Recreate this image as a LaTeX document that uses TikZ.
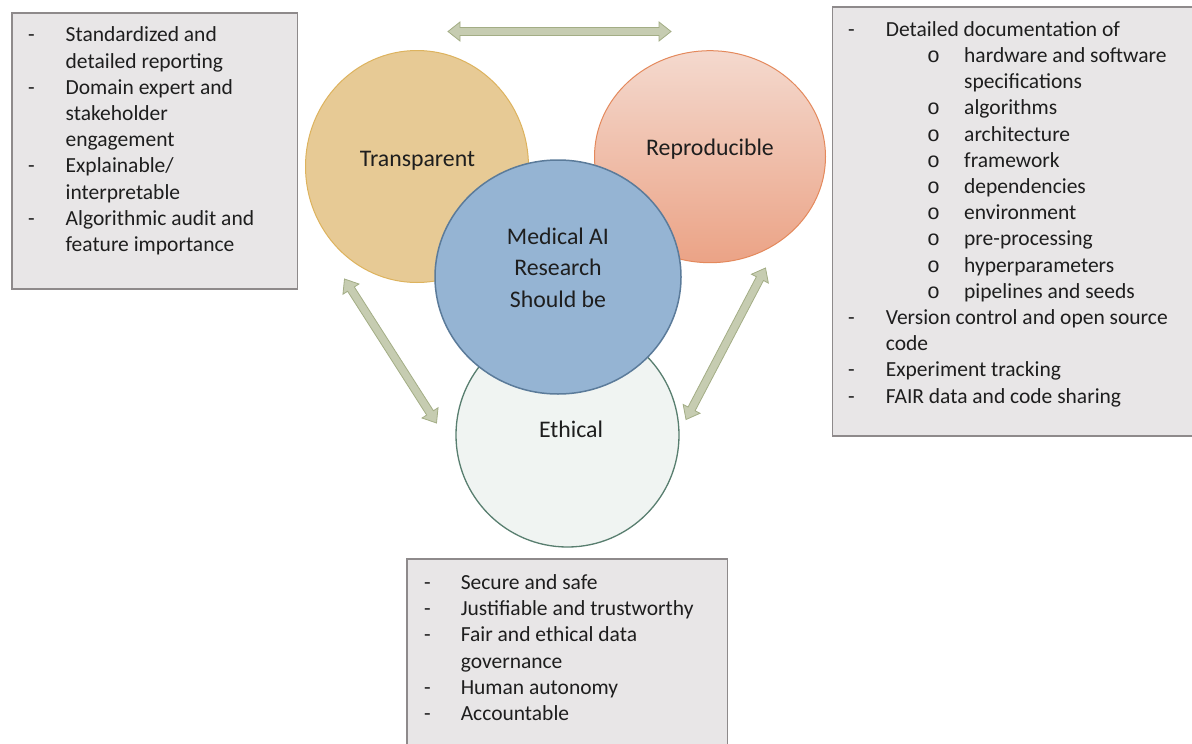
\documentclass[tikz,border=0pt]{standalone}
\usepackage{fontspec}
\setmainfont{Carlito}
\newfontfamily\bulletfont{Liberation Mono}
\usetikzlibrary{calc,shapes.geometric}

\definecolor{boxfill}{HTML}{E8E6E7}
\definecolor{boxline}{HTML}{8E8A8B}
\definecolor{transfill}{HTML}{E7CA95}
\definecolor{transline}{HTML}{DDB35E}
\definecolor{reprotop}{HTML}{F4D9CE}
\definecolor{reprobot}{HTML}{EBA386}
\definecolor{reproline}{HTML}{E4895C}
\definecolor{medfill}{HTML}{95B4D3}
\definecolor{medline}{HTML}{5B7B9A}
\definecolor{ethfill}{HTML}{F0F4F2}
\definecolor{ethline}{HTML}{587E6F}
\definecolor{arrfill}{HTML}{C6CCB1}
\definecolor{arrline}{HTML}{A3AD85}
\definecolor{txt}{HTML}{1E1E1E}

\newcommand\fatarrow[2]{%
\filldraw[fatarr] (#1)
 -- ($(#1)!12pt!(#2)!9.5pt!90:(#2)$)
 -- ($(#1)!12pt!(#2)!4pt!90:(#2)$)
 -- ($(#2)!12pt!(#1)!4pt!-90:(#1)$)
 -- ($(#2)!12pt!(#1)!9.5pt!-90:(#1)$)
 -- (#2)
 -- ($(#2)!12pt!(#1)!9.5pt!90:(#1)$)
 -- ($(#2)!12pt!(#1)!4pt!90:(#1)$)
 -- ($(#1)!12pt!(#2)!4pt!-90:(#2)$)
 -- ($(#1)!12pt!(#2)!9.5pt!-90:(#2)$)
 -- cycle;}
\newcommand\mysubitem[1]{\hspace*{41.3pt}\makebox[37pt][l]{\bulletfont o}#1}
\newcommand\mysubcont[1]{\hspace*{78.3pt}#1}

\begin{document}
\begin{tikzpicture}[x=1pt,y=-1pt,
  infobox/.style={draw=boxline, fill=boxfill, line width=1.6pt, rectangle, inner sep=0pt},
  listtext/.style={anchor=north west, inner sep=0pt, text=txt, font=\fontsize{21.5}{26.2}\selectfont},
  bubble/.style={ellipse, inner sep=0pt, line width=1pt},
  bubblelabel/.style={anchor=base, inner sep=0pt, text=txt, font=\fontsize{23.8}{31}\selectfont, align=center},
  fatarr/.style={fill=arrfill, draw=arrline, line width=0.8pt, line join=miter}]
\fill[white] (0,0) rectangle (1192,744);
\useasboundingbox (0,0) rectangle (1192,744);

% boxes
\node[infobox, minimum width=285.7pt, minimum height=275.7pt, anchor=north west] (leftbox) at (11,12.3) {};
\node[infobox, minimum width=362pt, minimum height=429pt, anchor=north west] (rightbox) at (831.7,6) {};
\node[infobox, minimum width=320.7pt, minimum height=200pt, anchor=north west] (botbox) at (406,558.3) {};

\node[listtext] (lefttext) at (28,23.4) {%
\begin{tabular}{@{}p{37.5pt}@{}l@{}}
- & Standardized and\\
  & detailed reporting\\
- & Domain expert and\\
  & stakeholder\\
  & engagement\\
- & Explainable/\\
  & interpretable\\
- & Algorithmic audit and\\
  & feature importance
\end{tabular}};

\node[listtext] (righttext) at (848,17.7) {%
\begin{tabular}{@{}p{37.7pt}@{}l@{}}
- & Detailed documentation of\\
  & \mysubitem{hardware and software}\\
  & \mysubcont{specifications}\\
  & \mysubitem{algorithms}\\
  & \mysubitem{architecture}\\
  & \mysubitem{framework}\\
  & \mysubitem{dependencies}\\
  & \mysubitem{environment}\\
  & \mysubitem{pre-processing}\\
  & \mysubitem{hyperparameters}\\
  & \mysubitem{pipelines and seeds}\\
- & Version control and open source\\
  & code\\
- & Experiment tracking\\
- & FAIR data and code sharing
\end{tabular}};

\node[listtext] (bottext) at (424,571) {%
\begin{tabular}{@{}p{36.6pt}@{}l@{}}
- & Secure and safe\\
- & Justifiable and trustworthy\\
- & Fair and ethical data\\
  & governance\\
- & Human autonomy\\
- & Accountable
\end{tabular}};

% circles
\node[bubble, fill=transfill, draw=transline, minimum width=223pt, minimum height=232pt] (transparent) at (417,166.5) {};
\node[bubble, top color=reprotop, bottom color=reprobot, draw=reproline, minimum width=231pt, minimum height=212pt] (reproducible) at (710,156.7) {};
\node[bubble, fill=ethfill, draw=ethline, line width=1.3pt, minimum width=223pt, minimum height=224pt] (ethical) at (567.5,435) {};
\node[bubble, fill=medfill, draw=medline, line width=1.5pt, minimum width=246pt, minimum height=234pt] (medical) at (558,277) {};

\node[bubblelabel] (translabel) at (417.5,166.4) {Transparent};
\node[bubblelabel] (reprolabel) at (710,155.3) {Reproducible};
\node[bubblelabel] (ethlabel) at (571,437) {Ethical};
\node[bubblelabel] (medlabel1) at (558,244.6) {Medical AI};
\node[bubblelabel] (medlabel2) at (558,275.7) {Research};
\node[bubblelabel] (medlabel3) at (558,307) {Should be};

% arrows
\coordinate (topL) at (448,31.5);
\coordinate (topR) at (671,31.5);
\coordinate (leftT) at (344.5,279);
\coordinate (leftB) at (436.5,423);
\coordinate (rightT) at (765.5,268);
\coordinate (rightB) at (686,419.5);
\fatarrow{topL}{topR}
\fatarrow{leftT}{leftB}
\fatarrow{rightT}{rightB}
\end{tikzpicture}
\end{document}
